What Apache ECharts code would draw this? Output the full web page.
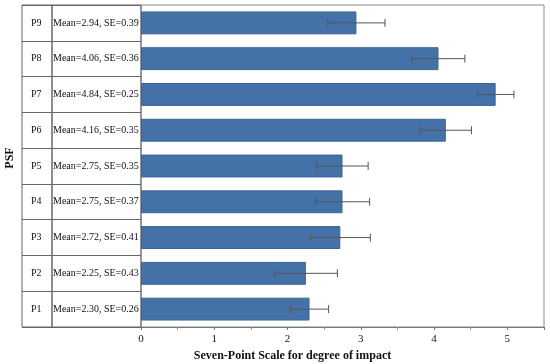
<!DOCTYPE html>
<html>
<head>
<meta charset="utf-8">
<script src="https://cdn.jsdelivr.net/npm/echarts@6/dist/echarts.min.js"></script>
<style>html,body{margin:0;padding:0;background:#fff;}#c{width:550px;height:364px;}</style>
</head>
<body>
<div id="c"></div>
<script>
var categories = ['P1','P2','P3','P4','P5','P6','P7','P8','P9'];
var means = [2.30, 2.25, 2.72, 2.75, 2.75, 4.16, 4.84, 4.06, 2.94];
var ses = [0.26, 0.43, 0.41, 0.37, 0.35, 0.35, 0.25, 0.36, 0.39];
var meanLabels = ['2.30','2.25','2.72','2.75','2.75','4.16','4.84','4.06','2.94'];
var seLabels = ['0.26','0.43','0.41','0.37','0.35','0.35','0.25','0.36','0.39'];
var xTicks = [0, 1, 2, 3, 4, 5];
var yTitle = 'PSF';

var FONT = "'Liberation Serif','Times New Roman',serif";
var chart = echarts.init(document.getElementById('c'), null, {renderer: 'canvas'});
var errData = means.map(function (m, i) { return [m, i, ses[i]]; });

var option = {
  backgroundColor: '#fff',
  animation: false,
  graphic: [
    {type: 'text', x: 10, y: 158, rotation: Math.PI / 2,
     style: {text: yTitle, fill: '#111', font: 'bold 12px ' + FONT, align: 'center', verticalAlign: 'middle'}}
  ],
  grid: [
    {left: 141, right: 6, top: 5, bottom: 37, show: true, borderColor: '#8a8a8a', borderWidth: 1, containLabel: false, outerBoundsMode: 'none'},
    {left: 22, width: 30, top: 5, bottom: 37, show: true, borderColor: '#666', borderWidth: 1, containLabel: false, outerBoundsMode: 'none'},
    {left: 52, width: 89, top: 5, bottom: 37, show: true, borderColor: '#666', borderWidth: 1, containLabel: false, outerBoundsMode: 'none'}
  ],
  xAxis: [
    {gridIndex: 0, type: 'value', min: 0, max: 5.5, interval: 1,
     axisLine: {show: true, lineStyle: {color: '#777'}},
     axisTick: {show: true, length: 3, lineStyle: {color: '#777'}},
     minorTick: {show: true, splitNumber: 2, length: 3, lineStyle: {color: '#999'}},
     splitLine: {show: false},
     axisLabel: {color: '#111', fontFamily: FONT, fontSize: 11, margin: 7, showMaxLabel: false,
       formatter: function (v) { return xTicks.indexOf(v) >= 0 ? String(v) : ''; }},
     name: 'Seven-Point Scale for degree of impact', nameLocation: 'middle', nameGap: 22,
     nameTextStyle: {color: '#111', fontFamily: FONT, fontSize: 12, fontWeight: 'bold', padding: [0, 100, 0, 0]}
    },
    {gridIndex: 1, type: 'value', min: 0, max: 1, show: false},
    {gridIndex: 2, type: 'value', min: 0, max: 1, show: false}
  ],
  yAxis: [
    {gridIndex: 0, type: 'category', data: categories,
     axisLine: {show: false}, axisTick: {show: false}, axisLabel: {show: false}, splitLine: {show: false}},
    {gridIndex: 1, type: 'category', data: categories,
     axisLine: {show: false}, axisTick: {show: false},
     axisLabel: {inside: true, align: 'left', margin: 9, color: '#111', fontFamily: FONT, fontSize: 10},
     splitLine: {show: true, lineStyle: {color: '#666', width: 1}}
    },
    {gridIndex: 2, type: 'category', data: categories,
     axisLine: {show: false}, axisTick: {show: false},
     axisLabel: {inside: true, align: 'left', margin: 1, color: '#111', fontFamily: FONT, fontSize: 10,
       formatter: function (v, i) { return 'Mean=' + meanLabels[i] + ', SE=' + seLabels[i]; }},
     splitLine: {show: true, lineStyle: {color: '#666', width: 1}}
    }
  ],
  series: [
    {type: 'bar', xAxisIndex: 0, yAxisIndex: 0, data: means, barWidth: '64%',
     itemStyle: {color: '#4472a8', borderColor: '#3a6495', borderWidth: 1}},
    {type: 'custom', xAxisIndex: 0, yAxisIndex: 0, data: errData,
     encode: {x: 0, y: 1},
     renderItem: function (params, api) {
       var m = api.value(0), y = api.value(1), s = api.value(2);
       var p1 = api.coord([m - s, y]);
       var p2 = api.coord([m + s, y]);
       var h = 4;
       var st = {stroke: '#555', lineWidth: 1};
       return {type: 'group', children: [
         {type: 'line', shape: {x1: p1[0], y1: p1[1], x2: p2[0], y2: p2[1]}, style: st},
         {type: 'line', shape: {x1: p1[0], y1: p1[1] - h, x2: p1[0], y2: p1[1] + h}, style: st},
         {type: 'line', shape: {x1: p2[0], y1: p2[1] - h, x2: p2[0], y2: p2[1] + h}, style: st}
       ]};
     },
     z: 5}
  ]
};
chart.setOption(option);
</script>
</body>
</html>
